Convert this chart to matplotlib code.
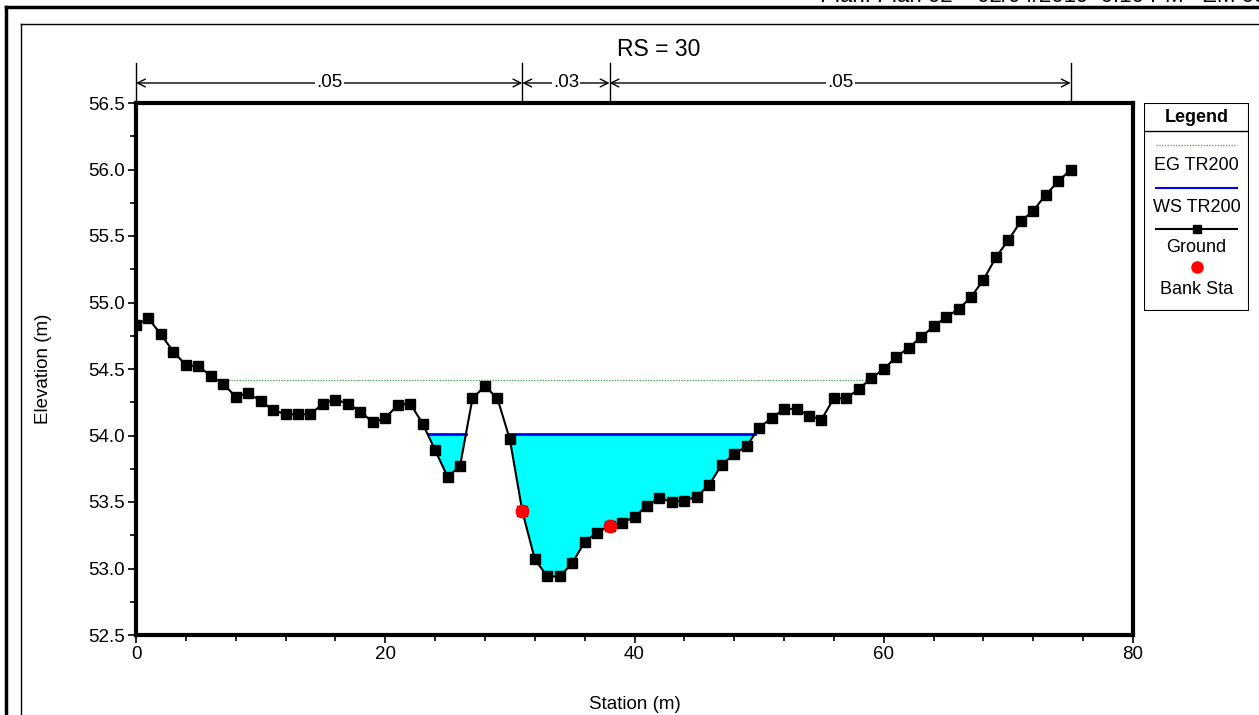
import numpy as np
import matplotlib
matplotlib.use('Agg')
import matplotlib.pyplot as plt
from matplotlib.lines import Line2D
from matplotlib.patches import Rectangle

plt.rcParams['font.family'] = ['Liberation Sans', 'DejaVu Sans']

# cross section data (RS = 30)
station = list(range(0, 76))
ground = [54.83, 54.88, 54.76, 54.63, 54.53, 54.52, 54.45, 54.39, 54.29, 54.32,
          54.26, 54.19, 54.16, 54.16, 54.16, 54.24, 54.27, 54.24, 54.18, 54.10,
          54.13, 54.23, 54.24, 54.09, 53.89, 53.69, 53.77, 54.28, 54.37, 54.28,
          53.97, 53.43, 53.07, 52.94, 52.94, 53.04, 53.20, 53.27, 53.32, 53.34,
          53.39, 53.47, 53.53, 53.50, 53.51, 53.54, 53.63, 53.78, 53.86, 53.92,
          54.06, 54.13, 54.20, 54.20, 54.15, 54.12, 54.28, 54.28, 54.35, 54.43,
          54.50, 54.59, 54.66, 54.74, 54.82, 54.89, 54.95, 55.04, 55.17, 55.34,
          55.47, 55.61, 55.69, 55.81, 55.91, 56.00]
bank_sta = [31, 38]
ws_elev = 54.01
eg_elev = 54.42
n_breaks = [0, 31, 38, 75]
n_values = ['.05', '.03', '.05']
title = 'RS = 30'
plan_text = 'Plan: Plan 02    02/04/2019  0:10 PM   EM 03'

x = np.array(station, dtype=float)
z = np.array(ground)


def wet_segments(level):
    # stretches of the section lying below a given water level
    segs = []
    start = None
    for i in range(len(x)):
        below = z[i] < level
        if below and start is None:
            if i == 0:
                start = x[0]
            else:
                start = x[i-1] + (level - z[i-1]) / (z[i] - z[i-1]) * (x[i] - x[i-1])
        if not below and start is not None:
            end = x[i-1] + (level - z[i-1]) / (z[i] - z[i-1]) * (x[i] - x[i-1])
            segs.append((start, end))
            start = None
    if start is not None:
        segs.append((start, x[-1]))
    return segs


W, H = 1259, 715
fig = plt.figure(figsize=(W / 100, H / 100), dpi=100)

# outer frames (running off the page)
fig.add_artist(Line2D([6 / W, 6 / W], [0, 1 - 7 / H], color='black', lw=2.5))
fig.add_artist(Line2D([6 / W, 1], [1 - 7 / H, 1 - 7 / H], color='black', lw=2.5))
fig.add_artist(Line2D([21 / W, 21 / W], [0, 1 - 24 / H], color='black', lw=1))
fig.add_artist(Line2D([21 / W, 1], [1 - 24 / H, 1 - 24 / H], color='black', lw=1))
fig.text(820 / W, 1 - 2 / H, plan_text, fontsize=16, ha='left', va='baseline')

ax = fig.add_axes([136 / W, (H - 635) / H, 997 / W, 532 / H])

ax.fill_between(x, z, ws_elev, where=z < ws_elev, interpolate=True,
                color='#00ffff', lw=0, zorder=1)
for a, b in wet_segments(ws_elev):
    ax.plot([a, b], [ws_elev, ws_elev], color='#0000ff', lw=2, zorder=2)
eg_seg = wet_segments(eg_elev)
ax.plot([eg_seg[0][0], eg_seg[-1][1]], [eg_elev, eg_elev], color='#55aa55',
        lw=1, ls=(0, (1, 1)), zorder=2)
ax.plot(x, z, color='black', lw=1.5, marker='s', markersize=7.5, zorder=3)
ax.plot(bank_sta, [z[station.index(s)] for s in bank_sta], 'o', color='#ff0000',
        markersize=9, zorder=4)

ax.set_xlim(0, 80)
ax.set_ylim(52.5, 56.5)
ax.set_xticks([0, 20, 40, 60, 80])
ax.set_xticks(np.arange(0, 81, 4), minor=True)
ax.set_yticks(np.arange(52.5, 56.51, 0.5))
ax.set_yticks(np.arange(52.5, 56.51, 0.25), minor=True)
ax.yaxis.set_major_formatter(matplotlib.ticker.FormatStrFormatter('%.1f'))
ax.tick_params(which='major', direction='out', length=6, width=1.2, labelsize=13.5, pad=2)
ax.tick_params(which='minor', direction='out', length=4, width=1.2)
for sp in ax.spines.values():
    sp.set_linewidth(3)
ax.set_xlabel('Station (m)', fontsize=13.5, labelpad=24)
ax.set_ylabel('Elevation (m)', fontsize=13.5, labelpad=26)

# manning's n bar
tr = ax.get_xaxis_transform()
for s in n_breaks:
    ax.plot([s, s], [1.0, 1.0752], transform=tr, color='black', lw=1, clip_on=False)
for i, lab in enumerate(n_values):
    a, b = n_breaks[i], n_breaks[i + 1]
    ax.annotate('', xy=(a, 1.0376), xytext=(b, 1.0376), xycoords=tr, textcoords=tr,
                arrowprops=dict(arrowstyle='<->', color='black', lw=1,
                                shrinkA=0, shrinkB=0, mutation_scale=14))
    ax.text((a + b) / 2, 1.0376, lab, transform=tr, ha='center', va='center',
            fontsize=13.5, bbox=dict(facecolor='white', edgecolor='none', pad=1))
fig.text(659 / W, 1 - 50 / H, title, fontsize=16.5, ha='center', va='center')

# legend box
lg = fig.add_axes([1144 / W, (H - 311) / H, 105 / W, 208 / H])
lg.set_xlim(0, 105)
lg.set_ylim(208, 0)
lg.axis('off')
lg.add_patch(Rectangle((0, 0), 105, 208, fill=False, edgecolor='black', lw=1.5))
lg.plot([0, 105], [28, 28], color='black', lw=1)
lg.text(52.5, 15, 'Legend', ha='center', va='center', fontsize=13, fontweight='bold')
lg.plot([12, 93], [42, 42], color='#55aa55', lw=1, ls=(0, (1, 1)))
lg.text(52.5, 63, 'EG TR200', ha='center', va='center', fontsize=13)
lg.plot([12, 93], [85, 85], color='#0000ff', lw=1.5)
lg.text(52.5, 105, 'WS TR200', ha='center', va='center', fontsize=13)
lg.plot([12, 93], [126, 126], color='black', lw=1.5)
lg.plot([52.5], [126], 's', color='black', markersize=6)
lg.text(52.5, 145, 'Ground', ha='center', va='center', fontsize=13)
lg.plot([52.5], [164], 'o', color='#ff0000', markersize=8)
lg.text(52.5, 186, 'Bank Sta', ha='center', va='center', fontsize=13)

fig.savefig('out.png', dpi=100)
